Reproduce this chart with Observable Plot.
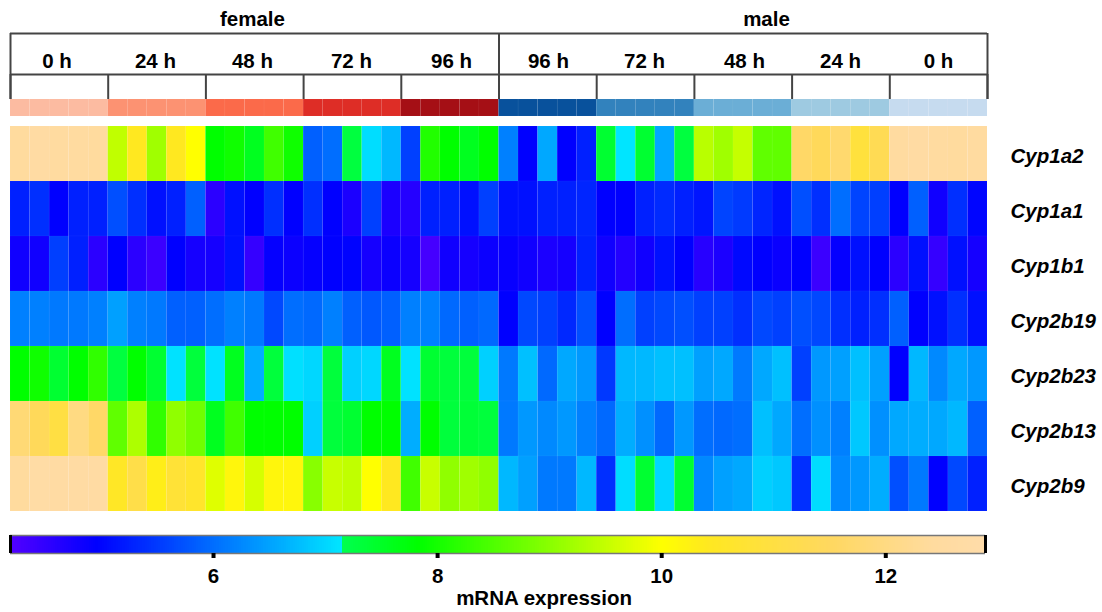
<!DOCTYPE html>
<html><head><meta charset="utf-8">
<script src="https://cdn.jsdelivr.net/npm/d3@7"></script>
<script src="https://cdn.jsdelivr.net/npm/@observablehq/plot@0.6"></script>
<style>
html,body{margin:0;padding:0;background:#fff}
svg{display:block}
</style></head><body><div id="chart"></div>
<script>
const genes = ["Cyp1a2","Cyp1a1","Cyp1b1","Cyp2b19","Cyp2b23","Cyp2b13","Cyp2b9"];
const sexes = ["female","male"];
const sexCentres = [12.38,38.69];
const times = ["0 h","24 h","48 h","72 h","96 h","96 h","72 h","48 h","24 h","0 h"];
const timeCentres = [2.38,7.42,12.38,17.45,22.57,27.53,32.45,37.56,42.48,47.49];
const groupColors = ["#fcbba1","#fc9272","#fb6a4a","#de2d26","#a50f15","#08519c","#3282bd","#6baed6","#9ecae1","#c6dbef"];
const barTicks = [6,8,10,12];
const colorDomain = [4.2,4.95,7.13,7.131,7.82,10,10.4,11.5,12.4,12.9];
const colorRange = ["#5000ff","#0000ff","#00e5ff","#00ff50","#00ff00","#ffff00","#ffe820","#ffd860","#ffdb9e","#ffdcaa"];

const cyp1a2 = [12.4,12.6,12.5,12.5,12.4, 9.46,10.4,9.19,10.4,10, 7.82,7.95,7.55,8.37,7.95, 5.86,6,7.28,7.05,6.7, 5.56,8.1,7.82,7.55,7.82,
  6.17,4.95,6.55,4.95,5.25, 7.4,7.13,7.4,6.55,7.28, 9.4,9.19,9.5,8.64,8.64, 11.6,11.4,11.7,10.9,11.3, 12.5,12.6,12.5,12.4,12.5];
const cyp1a1 = [5.25,5.4,4.95,5.25,5.25, 5.7,5.4,5.1,5.25,5.86, 4.55,5.1,4.95,5.4,4.95, 5.4,4.95,4.7,5.56,4.7, 4.6,5.25,5.25,5.1,5.56,
  5.1,5.1,5.25,5.25,5.3, 4.95,4.95,5.25,5.35,5.25, 5.15,5.6,5.5,5.3,5.1, 5.7,5.4,6,5.6,5.55, 4.95,5.86,4.8,5.4,5];
const cyp1b1 = [4.8,4.8,5.55,5.25,4.55, 4.95,4.55,4.4,4.95,4.75, 4.75,5.1,4.45,4.9,4.85, 4.9,4.95,4.98,4.75,4.85, 4.75,4.3,4.8,4.75,4.85,
  4.88,4.8,4.7,4.75,5.25, 4.8,4.62,4.8,5.1,4.95, 4.58,4.7,5.03,4.95,4.87, 4.95,4.4,4.9,5.1,4.95, 4.55,5.1,4.45,5.1,4.75];
const cyp2b19 = [6.17,6.17,6.1,6.1,6.17, 6.47,6.17,6.1,5.86,5.86, 6,6.17,6.1,5.64,6, 5.95,6.17,5.86,5.79,5.86, 6.17,6.17,5.95,5.86,5.95,
  4.95,5.64,5.56,5.33,5.7, 4.95,6,5.56,5.64,5.7, 5.56,5.56,5.4,5.64,5.56, 5.7,5.64,5.4,5.25,5.4, 5.86,4.95,5.1,5.4,5.1];
const cyp2b23 = [7.82,7.95,7.4,7.82,8.23, 7.28,7.82,7.4,7.1,7.3, 7.1,7.55,6.6,7.3,7.08, 7,7.3,6.93,7,7.55, 7.1,7.4,7.3,7.3,6.93,
  6.1,6.78,5.95,6.55,6.4, 5.48,6.7,6.7,6.78,6.78, 6.47,6.55,6.1,6.55,6.78, 5.56,6.4,6.47,6.78,6.47, 4.95,6.7,6.25,6.55,6.4];
const cyp2b13 = [11.8,11.4,11,12,11.6, 8.64,9.3,8.23,9.05,8.78, 7.55,8.37,7.82,7.82,7.82, 6.93,7.3,7.4,7.82,7.82, 6.6,7.82,7.3,7.35,7.3,
  6.1,6.4,6.25,6.4,6.17, 5.95,6.6,6.32,5.95,6.4, 6,5.95,6,6.78,6.55, 6,6.32,6.17,6.85,6.32, 6.55,6.6,6.55,6.7,5.86];
const cyp2b9 = [12.4,12.7,12.6,12.6,12.6, 10.5,11.1,10.3,10.8,10.6, 9.73,10.15,9.65,10.15,10.15, 8.98,9.53,9.46,10,10.4, 8.37,9.53,9.05,9.19,9.05,
  6.7,6.47,6.1,6.1,6.7, 5.4,7.05,7.4,7,7.4, 6.25,6.47,6.55,6.93,6.85, 5.4,7.05,6.25,6.4,6.6, 5.7,6.1,4.95,5.64,5.25];
const series = [cyp1a2,cyp1a1,cyp1b1,cyp2b19,cyp2b23,cyp2b13,cyp2b9];

const samples = d3.range(50);
const perGroup = 5;
const table = genes.flatMap((g,r)=>series[r].map((v,i)=>({gene:g,sample:i,value:v})));
const font = {fontFamily:"'Liberation Sans',Arial,sans-serif",fontSize:"20px",fontWeight:"bold",color:"#000",background:"#fff"};
const colorScale = {type:"linear",domain:colorDomain,range:colorRange,clamp:true,legend:false};
const W = 1102, left = 10, right = 987;
const line = {stroke:"#444",strokeWidth:2};
const yTop = 33, yMid = 74, yStripTop = 99, yStripBottom = 116;
const textSize = 20.5;

const boundaries = d3.range(0,51,perGroup);
const header = Plot.plot({
  width:W,height:126,margin:0,marginLeft:left,marginRight:W-right,style:font,
  x:{domain:[0,50],axis:null},
  y:{type:"identity",axis:null},
  color:{type:"identity"},
  marks:[
    Plot.rect(samples,{x1:d=>d,x2:d=>d+1,y1:yStripTop,y2:yStripBottom,fill:d=>groupColors[Math.floor(d/perGroup)],stroke:"#fff",strokeOpacity:0.06,strokeWidth:0.5}),
    Plot.ruleY([yTop,yMid],{x1:0,x2:50,...line}),
    Plot.ruleX([0,25,50],{y1:yTop,y2:yStripTop,...line}),
    Plot.ruleX(boundaries,{y1:yMid,y2:yStripTop,...line}),
    Plot.text(sexes,{x:(d,i)=>sexCentres[i],y:19,text:d=>d,fontSize:textSize,fontWeight:"bold",fill:"#000"}),
    Plot.text(times,{x:(d,i)=>timeCentres[i],y:61,text:d=>d,fontSize:textSize,fontWeight:"bold",fill:"#000"})
  ]
});

const heat = Plot.plot({
  width:W,height:386,marginTop:0,marginBottom:1,marginLeft:left,marginRight:W-right,style:font,
  x:{type:"band",domain:samples,padding:0,round:false,axis:null},
  y:{type:"band",domain:genes,padding:0,round:false,label:null},
  color:colorScale,
  marks:[
    Plot.cell(table,{x:"sample",y:"gene",fill:"value",stroke:"#fff",strokeOpacity:0.06,strokeWidth:0.5}),
    Plot.axisY({anchor:"right",tickSize:0,tickPadding:23,dy:2,label:null,fontStyle:"italic",fontWeight:"bold",fontSize:textSize,fill:"#000"})
  ]
});

const ramp = d3.range(4.19,12.89,0.02);
const bar = Plot.plot({
  width:W,height:100,marginTop:23,marginBottom:59,marginLeft:left,marginRight:W-985,style:font,
  x:{domain:[4.188,12.89]},
  y:{domain:[0,1],axis:null},
  color:colorScale,
  marks:[
    Plot.rect(ramp,{x1:d=>d,x2:d=>d+0.022,y1:0,y2:1,fill:d=>d,shapeRendering:"crispEdges"}),
    Plot.ruleY([0,1],{stroke:"#777",strokeWidth:1.5}),
    Plot.ruleX([4.188,12.89],{stroke:"#000",strokeWidth:3}),
    Plot.axisX({ticks:barTicks,tickSize:5,tickPadding:10,strokeWidth:4,stroke:"#000",label:null,fontSize:textSize,fontWeight:"bold",fill:"#000"}),
    Plot.text(["mRNA expression"],{x:[8.95],frameAnchor:"bottom",dy:51,text:d=>d,fontSize:textSize,fontWeight:"bold",fill:"#000"})
  ]
});

document.getElementById("chart").append(header,heat,bar);
</script></body></html>
